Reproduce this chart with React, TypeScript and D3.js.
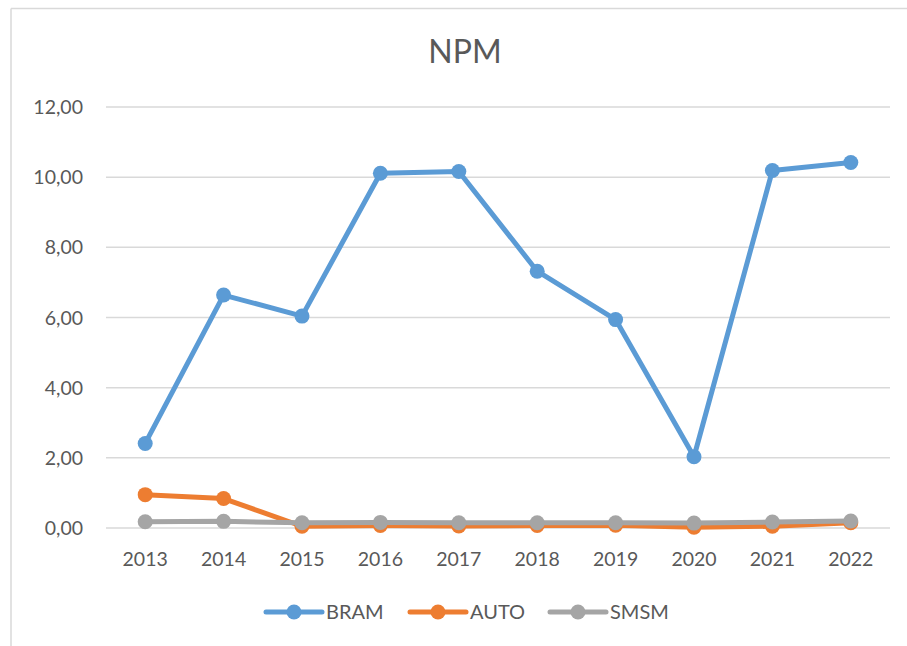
import React from "react";
import * as d3 from "d3";

const years = ["2013", "2014", "2015", "2016", "2017", "2018", "2019", "2020", "2021", "2022"];
const bram = [2.41, 6.64, 6.04, 10.11, 10.16, 7.32, 5.94, 2.03, 10.19, 10.42];
const auto = [0.95, 0.84, 0.05, 0.07, 0.06, 0.07, 0.08, 0.02, 0.05, 0.15];
const smsm = [0.18, 0.19, 0.15, 0.16, 0.15, 0.15, 0.15, 0.14, 0.17, 0.2];
const yTicks = [0, 2, 4, 6, 8, 10, 12];

const series = [
  { name: "BRAM", values: bram, color: "#5b9bd5" },
  { name: "AUTO", values: auto, color: "#ed7d31" },
  { name: "SMSM", values: smsm, color: "#a5a5a5" },
];

const W = 907;
const H = 646;
const FONT = "Lato, 'Open Sans', sans-serif";
const TXT = "#595959";

export default function App() {
  const x = d3.scaleBand<string>().domain(years).range([106, 890]);
  const y = d3.scaleLinear().domain([0, 12]).range([528, 107]);
  const cx = (d: string) => (x(d) as number) + x.bandwidth() / 2;
  const line = d3
    .line<number>()
    .x((_, i) => cx(years[i]))
    .y((v) => y(v));
  const fmt = (v: number) => v.toFixed(2).replace(".", ",");

  const legendX = [266, 410, 550];

  return (
    <svg
      width={W}
      height={H}
      style={{ position: "absolute", left: 0, top: 0, background: "#fff" }}
    >
      <rect x={0} y={0} width={W} height={H} fill="#fff" />
      <line x1={11} y1={8.5} x2={W} y2={8.5} stroke="#d9d9d9" strokeWidth={1.5} />
      <line x1={11} y1={8.5} x2={11} y2={H} stroke="#d9d9d9" strokeWidth={1.5} />
      <text
        x={465}
        y={63}
        textAnchor="middle"
        fontFamily={FONT}
        fontSize={32}
        fill={TXT}
      >
        NPM
      </text>
      {yTicks.map((t) => (
        <g key={t}>
          <line x1={106} x2={890} y1={y(t)} y2={y(t)} stroke="#d9d9d9" strokeWidth={1.5} />
          <text
            x={83}
            y={y(t) + 7}
            textAnchor="end"
            fontFamily={FONT}
            fontSize={19.5}
            fill={TXT}
          >
            {fmt(t)}
          </text>
        </g>
      ))}
      {years.map((yr) => (
        <text
          key={yr}
          x={cx(yr)}
          y={566}
          textAnchor="middle"
          fontFamily={FONT}
          fontSize={19.5}
          fill={TXT}
        >
          {yr}
        </text>
      ))}
      {series.map((s) => (
        <g key={s.name}>
          <path
            d={line(s.values) as string}
            fill="none"
            stroke={s.color}
            strokeWidth={5}
            strokeLinejoin="round"
            strokeLinecap="round"
          />
          {s.values.map((v, i) => (
            <circle key={i} cx={cx(years[i])} cy={y(v)} r={7.5} fill={s.color} />
          ))}
        </g>
      ))}
      {series.map((s, i) => (
        <g key={s.name} transform={`translate(${legendX[i]},612)`}>
          <line x1={0} x2={56} y1={0} y2={0} stroke={s.color} strokeWidth={5} strokeLinecap="round" />
          <circle cx={28} cy={0} r={7.5} fill={s.color} />
          <text x={60} y={7} fontFamily={FONT} fontSize={20} fill={TXT}>
            {s.name}
          </text>
        </g>
      ))}
    </svg>
  );
}
